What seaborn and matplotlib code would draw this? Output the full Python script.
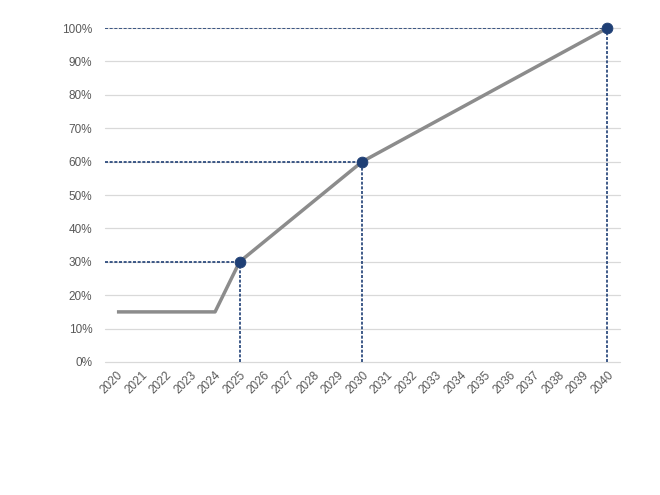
import matplotlib.pyplot as plt
import pandas as pd
import seaborn as sns
from matplotlib.ticker import PercentFormatter

# Data
years = list(range(2020, 2041))
line_years = [2020, 2021, 2022, 2023, 2024, 2025, 2030, 2040]
line_values = [15, 15, 15, 15, 15, 30, 60, 100]
milestone_years = [2025, 2030, 2040]
milestone_values = [30, 60, 100]
y_ticks = [0, 10, 20, 30, 40, 50, 60, 70, 80, 90, 100]

df_line = pd.DataFrame({'year': line_years, 'value': line_values})
df_pts = pd.DataFrame({'year': milestone_years, 'value': milestone_values})

sns.set_theme(style='white')
plt.rcParams['font.family'] = ['Liberation Sans', 'DejaVu Sans']

navy = '#1f3f75'
grey_text = '#595959'

fig = plt.figure(figsize=(6.6, 4.95), dpi=100)
ax = fig.add_axes([0.1586, 0.2687, 0.7804, 0.6747])

x_left, x_right = years[0] - 0.5, years[-1] + 0.5
ax.set_xlim(x_left, x_right)
ax.set_ylim(0, 100)

# Gridlines
for y in y_ticks:
    ax.axhline(y, color='#d9d9d9', lw=0.9, zorder=0, clip_on=False)

# Dashed guide lines to milestones
for x, y in zip(milestone_years, milestone_values):
    ax.plot([x_left, x], [y, y], color=navy, lw=1.2, ls=(0, (1.8, 1)), zorder=2)
    ax.plot([x, x], [0, y], color=navy, lw=1.2, ls=(0, (1.8, 1)), zorder=2)

sns.lineplot(data=df_line, x='year', y='value', ax=ax, color='#8c8c8c',
             lw=2.5, zorder=3, solid_capstyle='butt')
sns.scatterplot(data=df_pts, x='year', y='value', ax=ax, color=navy, s=60,
                edgecolor=navy, zorder=4, clip_on=False)

ax.set_xticks(years)
ax.set_xticklabels([str(y) for y in years], rotation=45, ha='right',
                   rotation_mode='anchor', fontsize=8.5, color=grey_text)
ax.set_yticks(y_ticks)
ax.yaxis.set_major_formatter(PercentFormatter(decimals=0))
ax.tick_params(axis='y', labelsize=8.5, labelcolor=grey_text, length=0, pad=9)
ax.tick_params(axis='x', length=0, pad=5)
ax.set_xlabel('')
ax.set_ylabel('')
for s in ax.spines.values():
    s.set_visible(False)

fig.savefig('out.png', dpi=100)
